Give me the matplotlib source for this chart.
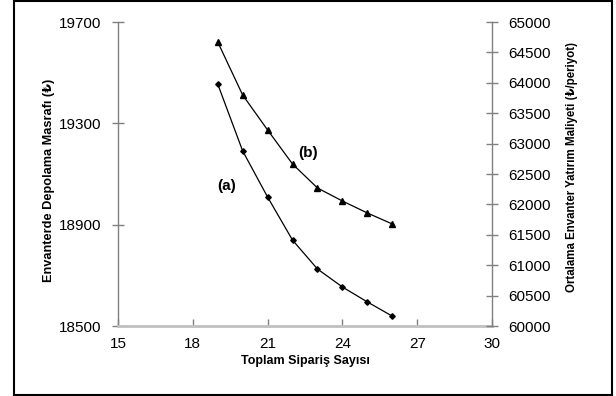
import matplotlib
matplotlib.use("Agg")
import matplotlib.pyplot as plt
from matplotlib.patches import Rectangle

plt.rcParams['font.family'] = ['Liberation Sans', 'DejaVu Sans']

orders = [19, 20, 21, 22, 23, 24, 25, 26]
storage_cost_a = [19455, 19191, 19009, 18839, 18725, 18654, 18595, 18539]
investment_cost_b = [64671, 63799, 63224, 62664, 62270, 62056, 61859, 61678]

x_ticks = [15, 18, 21, 24, 27, 30]
left_ticks = [18500, 18900, 19300, 19700]
right_ticks = [60000, 60500, 61000, 61500, 62000, 62500, 63000, 63500, 64000, 64500, 65000]

fig = plt.figure(figsize=(6.16, 3.96), dpi=100)
W, H = 616, 396
ax = fig.add_axes([118 / W, 1 - 326 / H, (492 - 118) / W, (326 - 22) / H])
ax2 = ax.twinx()

ax.plot(orders, storage_cost_a, color='black', lw=0.9, marker='D', ms=2.8, zorder=3)
ax2.plot(orders, investment_cost_b, color='black', lw=0.9, marker='^', ms=3.8, zorder=3)

ax.set_xlim(15, 30)
ax.set_ylim(18500, 19700)
ax2.set_ylim(60000, 65000)
ax.set_xticks(x_ticks)
ax.set_yticks(left_ticks)
ax2.set_yticks(right_ticks)

for a in (ax, ax2):
    a.spines['top'].set_visible(False)
ax.spines['right'].set_visible(False)
ax2.spines['left'].set_visible(False)
ax2.spines['bottom'].set_visible(False)
ax.spines['left'].set_color('#808080')
ax.spines['left'].set_linewidth(1.0)
ax2.spines['right'].set_color('#808080')
ax2.spines['right'].set_linewidth(1.0)
ax.spines['bottom'].set_color('#c0c0c0')
ax.spines['bottom'].set_linewidth(2.0)

ax.tick_params(axis='y', direction='inout', length=8, width=1, color='#808080', labelsize=11, pad=8)
ax2.tick_params(axis='y', direction='inout', length=8, width=1, color='#808080', labelsize=11, pad=8)
ax.tick_params(axis='x', direction='in', length=5, width=1, color='#808080', labelsize=11, pad=8)

ax.set_xlabel('Toplam Sipariş Sayısı', fontsize=9, fontweight='bold', labelpad=3)
ax.set_ylabel('Envanterde Depolama Masrafı (₺)', fontsize=9.2, fontweight='bold')
ax.yaxis.set_label_coords((49 - 118) / 374, (326 - 180) / 304)
ax2.set_ylabel('Ortalama Envanter Yatırım Maliyeti (₺/periyot)', fontsize=8.3, fontweight='bold')
ax2.yaxis.set_label_coords((572 - 118) / 374, (326 - 167) / 304)
ax.yaxis.label.set_va('center')
ax2.yaxis.label.set_va('center')

ax.text(19.37, 19053, '(a)', fontsize=11, fontweight='bold', ha='center', va='center')
ax.text(22.62, 19183, '(b)', fontsize=11, fontweight='bold', ha='center', va='center')

fig.patches.append(Rectangle((14 / W, 1 - 395 / H), (612 - 14) / W, (395 - 1) / H,
                             transform=fig.transFigure, fill=False, ec='black', lw=1.5))

fig.savefig('out.png', dpi=100)
